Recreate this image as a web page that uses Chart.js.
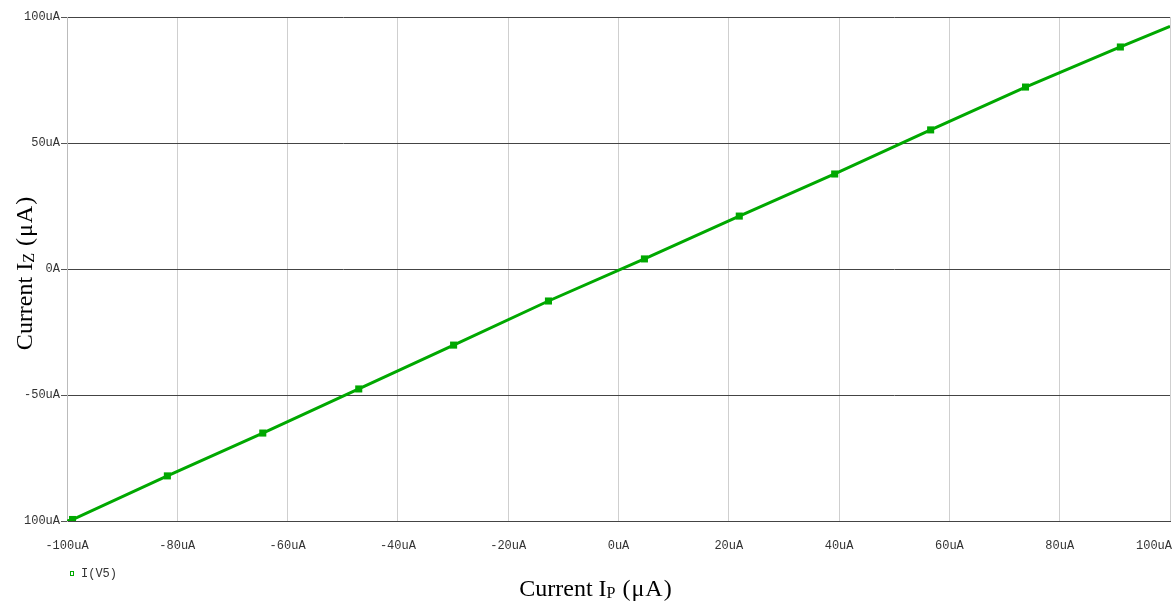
<!DOCTYPE html>
<html>
<head>
<meta charset="utf-8">
<script src="https://cdn.jsdelivr.net/npm/chart.js@4/dist/chart.umd.min.js"></script>
<style>
  html, body { margin: 0; padding: 0; background: #fff; }
  #wrap { width: 1174px; height: 602px; position: relative; }
</style>
</head>
<body>
<div id="wrap"><canvas id="c" width="1174" height="602"></canvas></div>
<script>
// Swept source current I_P (µA) and resulting current I_Z (µA)
const ipValues = [-100, -99.0, -81.8, -64.5, -47.1, -29.9, -12.7, 4.7, 21.9, 39.2, 56.6, 73.8, 91.0, 100];
const izValues = [-100, -99.4, -82.1, -65.1, -47.6, -30.2, -12.7, 4.0, 21.0, 37.7, 55.2, 72.2, 88.1, 96.3];
// which samples carry a trace marker
const markerFlags = [0, 1, 1, 1, 1, 1, 1, 1, 1, 1, 1, 1, 1, 0];

const xTickValues = [-100, -80, -60, -40, -20, 0, 20, 40, 60, 80, 100];
const xTickLabels = ['-100uA', '-80uA', '-60uA', '-40uA', '-20uA', '0uA', '20uA', '40uA', '60uA', '80uA', '100uA'];
const yTickValues = [-100, -50, 0, 50, 100];
const yTickLabels = ['100uA', '-50uA', '0A', '50uA', '100uA'];

const traceName = 'I(V5)';
const xTitle = ['Current I', 'P', ' (\u03bcA)'];
const yTitle = ['Current I', 'Z', ' (\u03bcA)'];

const GREEN = '#00a800';
const TICK_FAMILY = '"Liberation Mono", "DejaVu Sans Mono", monospace';
const TICK_FONT = { family: TICK_FAMILY, size: 12 };
const SERIF = '"Liberation Serif", "Times New Roman", serif';

const points = ipValues.map((x, i) => ({ x, y: izValues[i] }));

// Draws an axis title with a subscript part
function drawSubTitle(ctx, parts, size) {
  const subSize = Math.round(size * 0.68);
  ctx.font = size + 'px ' + SERIF;
  const w0 = ctx.measureText(parts[0]).width;
  ctx.font = subSize + 'px ' + SERIF;
  const w1 = ctx.measureText(parts[1]).width;
  ctx.font = size + 'px ' + SERIF;
  ctx.letterSpacing = '1px';
  const w2 = ctx.measureText(parts[2]).width;
  ctx.letterSpacing = '0px';
  const total = w0 + w1 + w2;
  let x = -total / 2;
  ctx.textBaseline = 'alphabetic';
  ctx.textAlign = 'left';
  ctx.font = size + 'px ' + SERIF;
  ctx.fillText(parts[0], x, 0);
  x += w0;
  ctx.font = subSize + 'px ' + SERIF;
  ctx.fillText(parts[1], x, 2);
  x += w1;
  ctx.font = size + 'px ' + SERIF;
  ctx.letterSpacing = '1px';
  ctx.fillText(parts[2], x, 0);
  ctx.letterSpacing = '0px';
}

const annotations = {
  id: 'annotations',
  afterDraw(chart) {
    const ctx = chart.ctx;
    const area = chart.chartArea;
    const xs = chart.scales.x;
    ctx.save();
    // x tick labels; the last one is kept inside the canvas
    ctx.fillStyle = '#333';
    ctx.font = '12px ' + TICK_FAMILY;
    ctx.textBaseline = 'middle';
    xTickValues.forEach((v, i) => {
      const px = xs.getPixelForValue(v);
      const last = i === xTickValues.length - 1;
      ctx.textAlign = last ? 'right' : 'center';
      ctx.fillText(xTickLabels[i], last ? px + 2 : px, area.bottom + 25);
    });
    ctx.fillStyle = '#000';
    // x-axis title
    ctx.save();
    ctx.translate(596, 596);
    drawSubTitle(ctx, xTitle, 24);
    ctx.restore();
    // y-axis title
    ctx.save();
    ctx.translate(32, (area.top + area.bottom) / 2 + 4);
    ctx.rotate(-Math.PI / 2);
    drawSubTitle(ctx, yTitle, 24);
    ctx.restore();
    // trace legend
    ctx.strokeStyle = GREEN;
    ctx.lineWidth = 1;
    ctx.strokeRect(70.5, 571.5, 3, 4);
    ctx.fillStyle = '#333';
    ctx.font = '12px ' + TICK_FAMILY;
    ctx.textBaseline = 'middle';
    ctx.textAlign = 'left';
    ctx.fillText(traceName, 81, 574);
    ctx.restore();
  }
};

new Chart(document.getElementById('c'), {
  type: 'scatter',
  data: {
    datasets: [{
      label: traceName,
      data: points,
      showLine: true,
      borderColor: GREEN,
      backgroundColor: GREEN,
      borderWidth: 3,
      tension: 0,
      pointStyle: 'rect',
      pointRadius: markerFlags.map(f => f ? 5 : 0),
      pointBorderWidth: 0,
      pointHoverRadius: 0
    }]
  },
  options: {
    responsive: false,
    animation: false,
    events: [],
    layout: { padding: { top: 17, right: 4, left: 0, bottom: 0 } },
    plugins: {
      legend: { display: false },
      tooltip: { enabled: false },
      title: { display: false }
    },
    scales: {
      x: {
        type: 'linear',
        min: -100,
        max: 100,
        afterBuildTicks(axis) { axis.ticks = xTickValues.map(v => ({ value: v })); },
        afterFit(axis) { axis.height = 81; axis.paddingLeft = 0; axis.paddingRight = 0; },
        grid: { color: '#cfcfcf', lineWidth: 1, drawTicks: false },
        border: { display: true, color: '#444', width: 1 },
        ticks: { display: false }
      },
      y: {
        type: 'linear',
        min: -100,
        max: 100,
        afterBuildTicks(axis) { axis.ticks = yTickValues.map(v => ({ value: v })); },
        afterFit(axis) { axis.width = 67; axis.paddingTop = 0; axis.paddingBottom = 0; },
        grid: { color: '#444', lineWidth: 1, drawTicks: true, tickLength: 6, tickColor: '#555' },
        border: { display: true, color: '#bbb', width: 1 },
        ticks: {
          padding: 1,
          color: '#333',
          font: TICK_FONT,
          autoSkip: false,
          callback: (v) => yTickLabels[yTickValues.indexOf(v)]
        }
      }
    }
  },
  plugins: [annotations]
});
</script>
</body>
</html>
